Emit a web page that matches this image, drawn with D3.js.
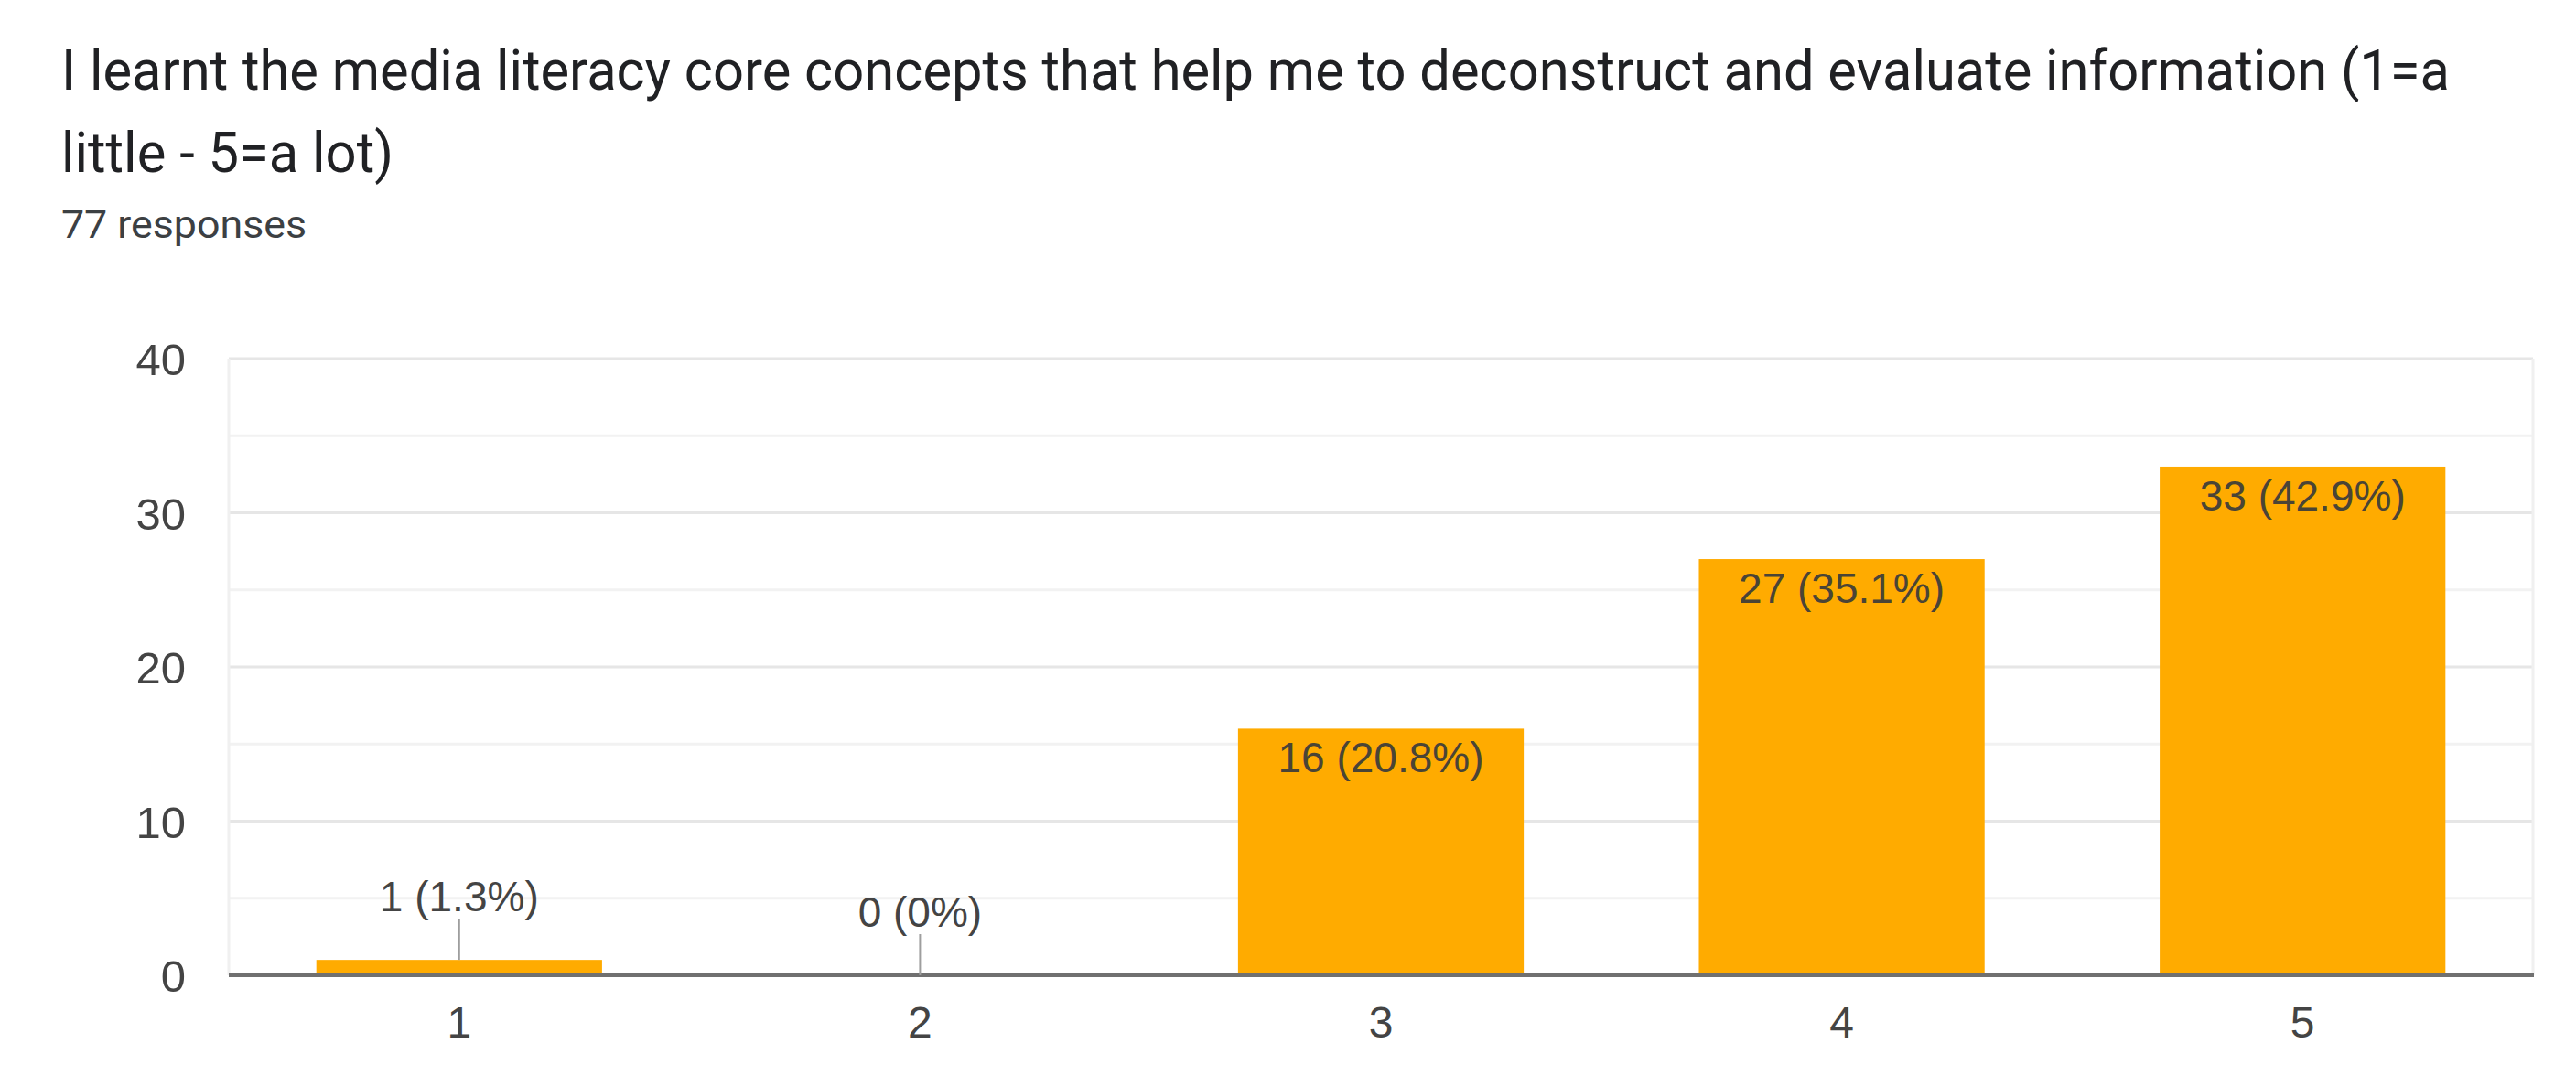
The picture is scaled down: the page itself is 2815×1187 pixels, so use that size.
<!DOCTYPE html>
<html>
<head>
<meta charset="utf-8">
<script src="https://cdn.jsdelivr.net/npm/d3@7"></script>
<style>
  html, body { margin: 0; padding: 0; background: #ffffff; }
  svg { display: block; }
</style>
</head>
<body>
<script>
// ---- data ----
const categories = ["1", "2", "3", "4", "5"];
const counts = [1, 0, 16, 27, 33];
const percents = ["1.3%", "0%", "20.8%", "35.1%", "42.9%"];
const yTicks = [0, 10, 20, 30, 40];
const yMinorTicks = [5, 15, 25, 35];
const titleLines = [
  "I learnt the media literacy core concepts that help me to deconstruct and evaluate information (1=a",
  "little - 5=a lot)"
];
const subtitle = "77 responses";

// ---- layout ----
const W = 2815, H = 1187;
const plot = { left: 250, right: 2768, top: 392, bottom: 1066 };

const svg = d3.select("body").append("svg")
  .attr("width", W).attr("height", H);

const x = d3.scaleBand()
  .domain(categories)
  .range([plot.left, plot.right])
  .paddingInner(0.38)
  .paddingOuter(0.19);

const y = d3.scaleLinear()
  .domain([0, 40])
  .range([plot.bottom, plot.top]);

// title
const titleTargets = [2610, 363];
const titleBaselines = [98, 188];
titleLines.forEach((t, i) => {
  svg.append("text")
    .attr("x", 67).attr("y", titleBaselines[i])
    .attr("font-family", "Roboto, Arial, sans-serif")
    .attr("font-size", 62)
    .attr("fill", "#202124")
    .attr("textLength", titleTargets[i])
    .attr("lengthAdjust", "spacingAndGlyphs")
    .text(t);
});
svg.append("text")
  .attr("x", 67).attr("y", 260)
  .attr("font-family", "Roboto, Arial, sans-serif")
  .attr("font-size", 43)
  .attr("fill", "#3c4043")
  .attr("textLength", 268)
  .attr("lengthAdjust", "spacingAndGlyphs")
  .text(subtitle);

// gridlines
const g = svg.append("g");
g.selectAll("line.minor").data(yMinorTicks).join("line")
  .attr("class", "minor")
  .attr("x1", plot.left).attr("x2", plot.right)
  .attr("y1", d => y(d)).attr("y2", d => y(d))
  .attr("stroke", "#f2f2f2").attr("stroke-width", 3);
g.selectAll("line.major").data(yTicks.filter(d => d > 0)).join("line")
  .attr("class", "major")
  .attr("x1", plot.left).attr("x2", plot.right)
  .attr("y1", d => y(d)).attr("y2", d => y(d))
  .attr("stroke", "#e6e6e6").attr("stroke-width", 3);
// side borders
[plot.left, plot.right].forEach(xx => {
  g.append("line")
    .attr("x1", xx).attr("x2", xx)
    .attr("y1", plot.top).attr("y2", plot.bottom)
    .attr("stroke", "#f0f0f0").attr("stroke-width", 3);
});

const labelFont = "'Liberation Sans', Arimo, Arial, sans-serif";

// y axis labels
const yAxis = d3.axisLeft(y).tickValues(yTicks).tickSize(0).tickPadding(0).tickFormat(d3.format("d"));
const ya = svg.append("g").attr("transform", `translate(${203},0)`).call(yAxis);
ya.select(".domain").remove();
ya.selectAll("text")
  .attr("font-family", labelFont)
  .attr("font-size", 49)
  .attr("fill", "#444444")
  .attr("x", 0)
  .attr("dy", "0.36em");

// bars
const data = categories.map((c, i) => ({ c, v: counts[i], p: percents[i] }));
svg.append("g").selectAll("rect").data(data).join("rect")
  .attr("x", d => x(d.c))
  .attr("width", x.bandwidth())
  .attr("y", d => y(d.v))
  .attr("height", d => y(0) - y(d.v))
  .attr("fill", "#ffab00");

// x axis
const xAxis = d3.axisBottom(x).tickSize(0).tickPadding(0);
const xa = svg.append("g").attr("transform", `translate(0,${plot.bottom})`).call(xAxis);
xa.select(".domain").remove();
xa.selectAll(".tick text")
  .attr("font-family", labelFont)
  .attr("font-size", 48)
  .attr("fill", "#444444")
  .attr("dy", "0")
  .attr("y", 68);

svg.append("line")
  .attr("x1", plot.left).attr("x2", plot.right + 1)
  .attr("y1", y(0)).attr("y2", y(0))
  .attr("stroke", "#707070").attr("stroke-width", 4);

// value labels
const inside = data.filter(d => d.v >= 5);
const outside = data.filter(d => d.v < 5);
const cx = d => x(d.c) + x.bandwidth() / 2;

svg.append("g").selectAll("text").data(inside).join("text")
  .attr("x", cx)
  .attr("y", d => y(d.v) + 48)
  .attr("text-anchor", "middle")
  .attr("font-family", labelFont)
  .attr("font-size", 46)
  .attr("fill", "#4a4436")
  .text(d => `${d.v} (${d.p})`);

const og = svg.append("g");
og.selectAll("line").data(outside).join("line")
  .attr("x1", cx).attr("x2", cx)
  .attr("y1", d => y(d.v))
  .attr("y2", d => y(d.v) - 45)
  .attr("stroke", "#9e9e9e").attr("stroke-width", 2);
og.selectAll("text").data(outside).join("text")
  .attr("x", cx)
  .attr("y", d => y(d.v) - 53)
  .attr("text-anchor", "middle")
  .attr("font-family", labelFont)
  .attr("font-size", 46)
  .attr("fill", "#444444")
  .text(d => `${d.v} (${d.p})`);
</script>
</body>
</html>
